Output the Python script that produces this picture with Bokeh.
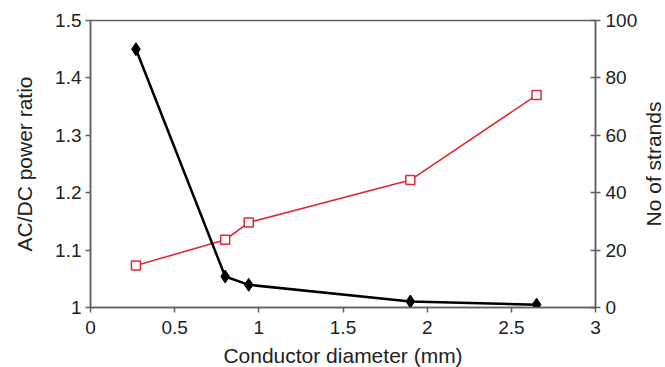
import math
from bokeh.plotting import figure
from bokeh.layouts import row, column
from bokeh.models import Range1d, LinearAxis, FixedTicker, CustomJSTickFormatter, Label
from bokeh.embed import file_html
from bokeh.resources import INLINE

diameter_mm = [0.27, 0.8, 0.94, 1.9, 2.65]
ac_dc_ratio = [1.073, 1.118, 1.148, 1.222, 1.370]
no_of_strands = [90, 10.8, 7.9, 2.1, 1]

x_ticks = [0, 0.5, 1, 1.5, 2, 2.5, 3]
left_ticks = [1, 1.1, 1.2, 1.3, 1.4, 1.5]
right_ticks = [0, 20, 40, 60, 80, 100]

x_title = "Conductor diameter (mm)"
left_title = "AC/DC power ratio"
right_title = "No of strands"

FONT = "Liberation Sans"
AX = "#606060"
TXT = "#222222"

p = figure(width=641, height=342, output_backend="svg", toolbar_location=None,
           x_range=Range1d(0, 3), y_range=Range1d(1, 1.5),
           min_border_left=90, min_border_right=46, min_border_top=20, min_border_bottom=35)
p.extra_y_ranges = {"strands": Range1d(0, 100)}
p.grid.visible = False
p.background_fill_color = "white"
p.border_fill_color = "white"
p.outline_line_color = AX
p.outline_line_width = 1.5

fmt = CustomJSTickFormatter(code="return Number(tick.toFixed(2)).toString();")

right = LinearAxis(y_range_name="strands")
p.add_layout(right, "right")

for ax, ticks in ((p.xaxis[0], x_ticks), (p.yaxis[0], left_ticks), (right, right_ticks)):
    ax.ticker = FixedTicker(ticks=ticks)
    ax.formatter = fmt
    ax.minor_tick_line_color = None
    ax.axis_line_color = AX
    ax.axis_line_width = 1.5
    ax.major_tick_line_color = AX
    ax.major_tick_line_width = 1.5
    ax.major_tick_out = 5
    ax.major_tick_in = 0
    ax.major_label_text_font = FONT
    ax.major_label_text_font_size = "19px"
    ax.major_label_text_color = TXT
    ax.axis_label_text_font = FONT
    ax.axis_label_text_font_size = "21px"
    ax.axis_label_text_font_style = "normal"
    ax.axis_label_text_color = TXT

right.major_tick_in = 5
p.yaxis[0].axis_label = left_title
p.xaxis[0].major_label_standoff = 8
p.yaxis[0].major_label_standoff = 4
p.yaxis[0].axis_label_standoff = 16
right.major_label_standoff = 5

red = "#dc2a36"
p.line(diameter_mm, ac_dc_ratio, line_color=red, line_width=1.6)
p.scatter(diameter_mm, ac_dc_ratio, marker="square", size=9, fill_color="white",
          line_color=red, line_width=1.5)

p.line(diameter_mm, no_of_strands, y_range_name="strands", line_color="black", line_width=2.5)
p.scatter(diameter_mm, no_of_strands, y_range_name="strands", marker="diamond", size=13,
          fill_color="black", line_color="black")


def blank(width, height, xr, yr, **borders):
    f = figure(width=width, height=height, output_backend="svg", toolbar_location=None,
               x_range=xr, y_range=yr, x_axis_location=None, y_axis_location=None,
               min_border_left=borders.get("left", 0), min_border_right=borders.get("right", 0),
               min_border_top=borders.get("top", 0), min_border_bottom=borders.get("bottom", 0))
    f.grid.visible = False
    f.outline_line_color = None
    f.background_fill_color = "white"
    f.border_fill_color = "white"
    return f


rf = blank(24, 342, Range1d(0, 1), Range1d(0, 100), top=20, bottom=35)
rf.add_layout(Label(x=0.5, y=50, angle=math.pi / 2, text=right_title,
                    text_font=FONT, text_font_size="21px", text_color=TXT,
                    text_align="center", text_baseline="middle"))

bf = blank(665, 25, Range1d(0, 3), Range1d(0, 1), left=90, right=70)
bf.add_layout(Label(x=1.5, y=0.5, text=x_title,
                    text_font=FONT, text_font_size="21px", text_color=TXT,
                    text_align="center", text_baseline="middle"))

layout = column(row(p, rf, spacing=0), bf, spacing=0)

open("out.html", "w").write(file_html(layout, INLINE))
